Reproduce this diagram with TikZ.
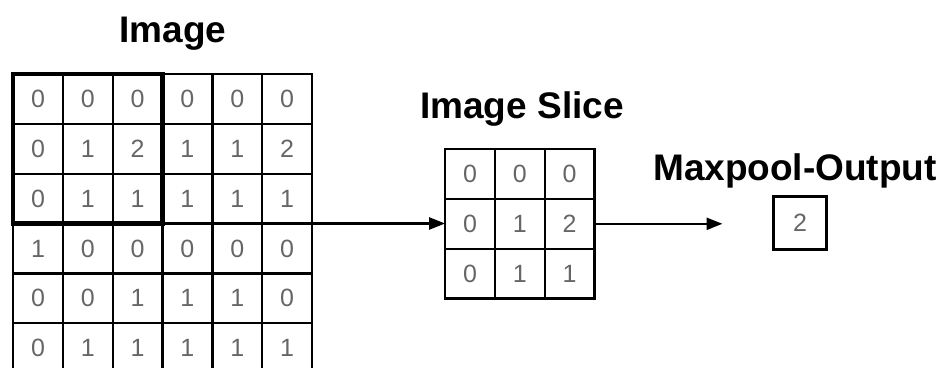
\documentclass[tikz,border=0pt]{standalone}
\usepackage{fontspec}
\setmainfont{Liberation Sans}
\usepackage{tikz}
\usetikzlibrary{arrows.meta}
\usetikzlibrary{fit}
\colorlet{digit}{black!60}
\tikzstyle{cell} = [rectangle, minimum size=49.8pt, inner sep=0pt, outer sep=0pt, draw=black, line width=2.4pt, text=digit, font=\fontsize{25}{25}\selectfont]
\tikzstyle{outcell} = [cell, minimum size=53pt]
\tikzstyle{title} = [anchor=base, font=\fontsize{37}{37}\selectfont\bfseries]
\tikzstyle{flow} = [-{Triangle[length=16pt,width=12pt]}, line width=2.4pt]

\begin{document}
\begin{tikzpicture}[x=1pt, y=-1pt]
\useasboundingbox (0,0) rectangle (945,367);
\clip (0,0) rectangle (945,367);

% Titles
\node[title] (timg) at (173,42) {Image};
\node[title] (tslice) at (522,118) {Image Slice};
\node[title] (tout) at (795,180) {Maxpool-Output};
% Image, 6 x 6 (last row cut by the frame)
% Row 1
\node[cell] (a11) at (38, 99) {0};
\node[cell] (a12) at (87.8, 99) {0};
\node[cell] (a13) at (137.6, 99) {0};
\node[cell] (a14) at (187.4, 99) {0};
\node[cell] (a15) at (237.2, 99) {0};
\node[cell] (a16) at (287, 99) {0};
% Row 2
\node[cell] (a21) at (38, 148.8) {0};
\node[cell] (a22) at (87.8, 148.8) {1};
\node[cell] (a23) at (137.6, 148.8) {2};
\node[cell] (a24) at (187.4, 148.8) {1};
\node[cell] (a25) at (237.2, 148.8) {1};
\node[cell] (a26) at (287, 148.8) {2};
% Row 3
\node[cell] (a31) at (38, 198.6) {0};
\node[cell] (a32) at (87.8, 198.6) {1};
\node[cell] (a33) at (137.6, 198.6) {1};
\node[cell] (a34) at (187.4, 198.6) {1};
\node[cell] (a35) at (237.2, 198.6) {1};
\node[cell] (a36) at (287, 198.6) {1};
% Row 4
\node[cell] (a41) at (38, 248.4) {1};
\node[cell] (a42) at (87.8, 248.4) {0};
\node[cell] (a43) at (137.6, 248.4) {0};
\node[cell] (a44) at (187.4, 248.4) {0};
\node[cell] (a45) at (237.2, 248.4) {0};
\node[cell] (a46) at (287, 248.4) {0};
% Row 5
\node[cell] (a51) at (38, 298.2) {0};
\node[cell] (a52) at (87.8, 298.2) {0};
\node[cell] (a53) at (137.6, 298.2) {1};
\node[cell] (a54) at (187.4, 298.2) {1};
\node[cell] (a55) at (237.2, 298.2) {1};
\node[cell] (a56) at (287, 298.2) {0};
% Row 6
\node[cell] (a61) at (38, 348) {0};
\node[cell] (a62) at (87.8, 348) {1};
\node[cell] (a63) at (137.6, 348) {1};
\node[cell] (a64) at (187.4, 348) {1};
\node[cell] (a65) at (237.2, 348) {1};
\node[cell] (a66) at (287, 348) {1};
% window of the first slice
\node[draw, line width=4.5pt, fit=(a11) (a33), inner sep=0pt] (win) {};
% Image slice, 3 x 3
\node[cell] (s11) at (470, 174) {0};
\node[cell] (s12) at (519.8, 174) {0};
\node[cell] (s13) at (569.6, 174) {0};
\node[cell] (s21) at (470, 223.8) {0};
\node[cell] (s22) at (519.8, 223.8) {1};
\node[cell] (s23) at (569.6, 223.8) {2};
\node[cell] (s31) at (470, 273.6) {0};
\node[cell] (s32) at (519.8, 273.6) {1};
\node[cell] (s33) at (569.6, 273.6) {1};
% Maxpool output
\node[outcell] (m11) at (800, 223) {2};
% ARROWS
\draw[flow] (a46.north east) -- (a46.north east -| s21.west);
\draw[flow, shorten >=51pt] (s23.east) -- (s23.east -| m11.west);
\end{tikzpicture}
\end{document}
